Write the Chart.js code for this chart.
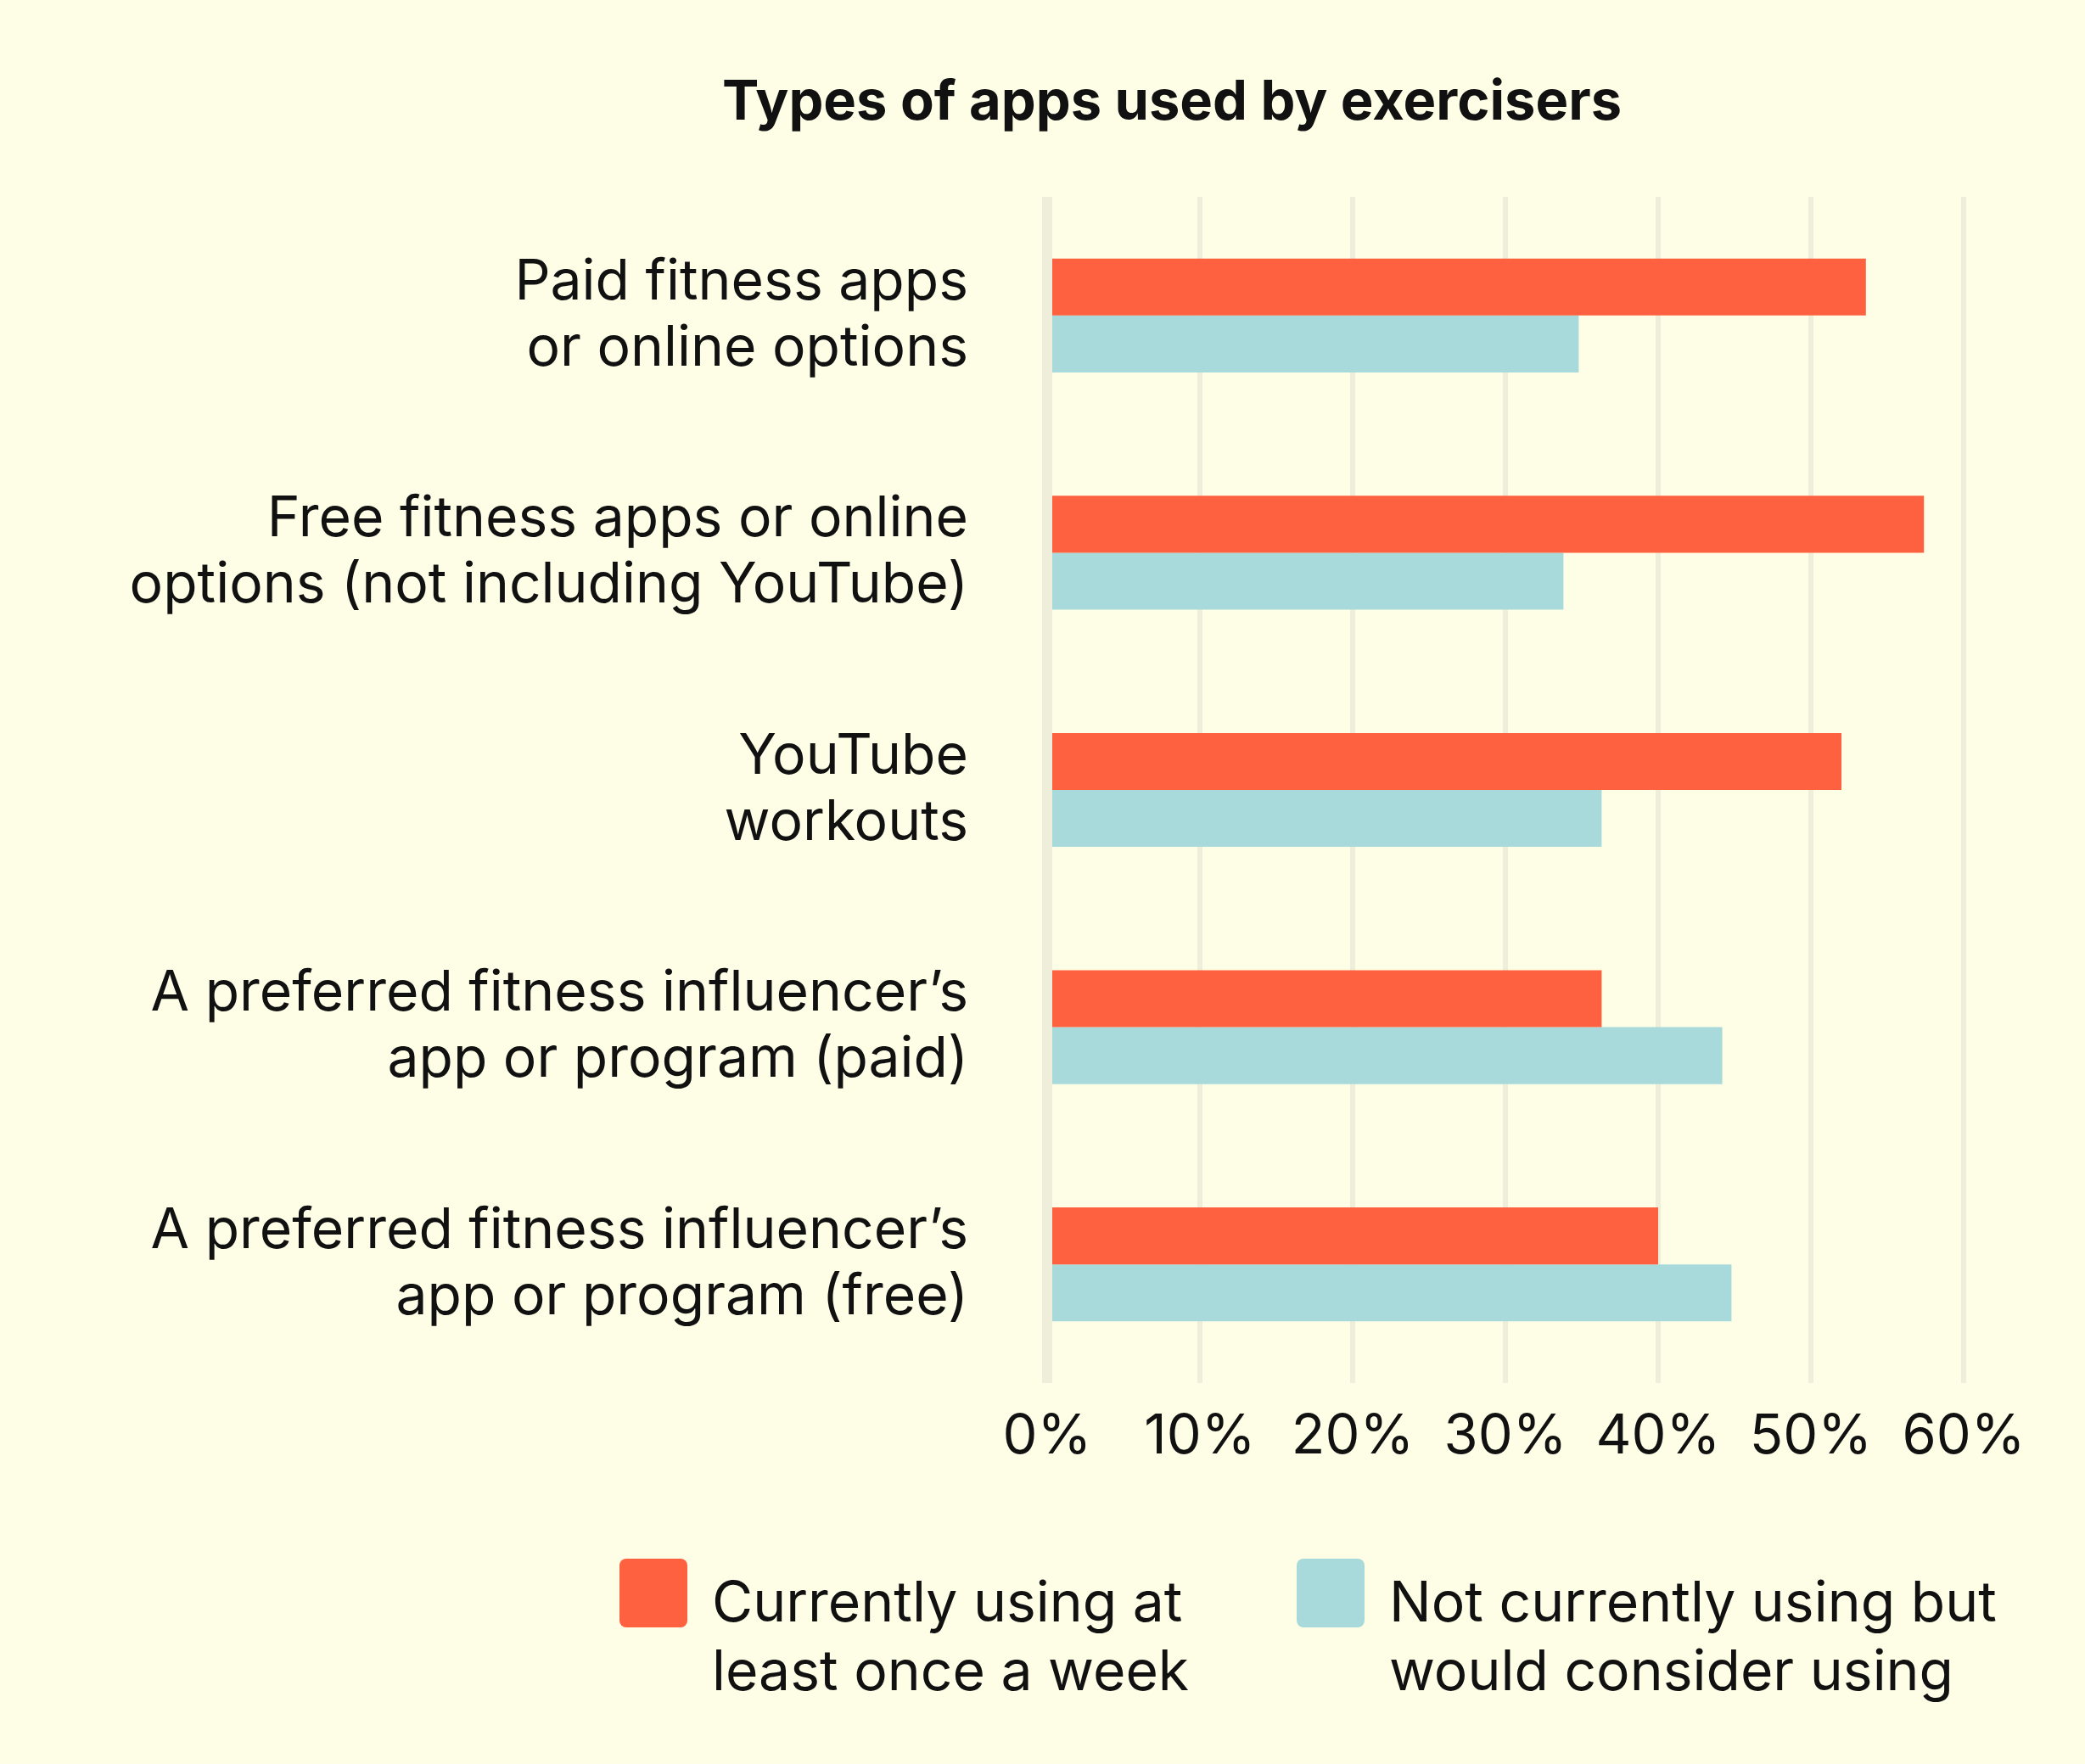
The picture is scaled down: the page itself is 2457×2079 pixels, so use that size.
<!DOCTYPE html>
<html>
<head>
<meta charset="utf-8">
<script src="https://cdn.jsdelivr.net/npm/chart.js@4.4.1/dist/chart.umd.min.js"></script>
<style>
  html, body { margin: 0; padding: 0; background: #fefee6; }
  #wrap { position: relative; width: 2457px; height: 2079px; background: #fefee6; font-family: Inter, sans-serif; color: #111; }
  #chart { position: absolute; left: 0; top: 0; }
  #title { position: absolute; left: 1381px; top: 78px; transform: translateX(-50%); white-space: nowrap;
           font-weight: 700; font-size: 65px; line-height: 80px; }
  .leg { position: absolute; top: 1837px; }
  .leg .box { position: absolute; left: 0; top: 0; width: 80px; height: 81px; border-radius: 8px; }
  .leg .txt { position: absolute; left: 109px; top: 10px; white-space: nowrap; font-size: 66px; line-height: 81px; }
</style>
</head>
<body>
<div id="wrap">
  <canvas id="chart" width="2457" height="2079" style="width:2457px;height:2079px"></canvas>
  <div id="title">Types of apps used by exercisers</div>
  <div id="legend"></div>
</div>
<script>
// categories, two lines each
const categories = [
  ['Paid fitness apps', 'or online options'],
  ['Free fitness apps or online', 'options (not including YouTube)'],
  ['YouTube', 'workouts'],
  ['A preferred fitness influencer’s', 'app or program (paid)'],
  ['A preferred fitness influencer’s', 'app or program (free)'],
];
const currentlyUsing = [53.6, 57.4, 52.0, 36.3, 40.0];
const wouldConsider = [34.8, 33.8, 36.3, 44.2, 44.8];
const seriesNames = [
  ['Currently using at', 'least once a week'],
  ['Not currently using but', 'would consider using'],
];
const seriesColors = ['#fe613f', '#a8dadc'];
const xMax = 60;
const xStep = 10;

const FONT = 'Inter, sans-serif';

new Chart(document.getElementById('chart').getContext('2d'), {
  type: 'bar',
  data: {
    labels: categories,
    datasets: [
      { label: seriesNames[0].join(' '), data: currentlyUsing, backgroundColor: seriesColors[0] },
      { label: seriesNames[1].join(' '), data: wouldConsider, backgroundColor: seriesColors[1] },
    ],
  },
  options: {
    indexAxis: 'y',
    responsive: false,
    animation: false,
    devicePixelRatio: 1,
    layout: { padding: { top: 232, right: 143, bottom: 329, left: 0 } },
    datasets: { bar: { categoryPercentage: 0.48, barPercentage: 1, borderWidth: 0 } },
    plugins: { legend: { display: false }, title: { display: false }, tooltip: { enabled: false } },
    scales: {
      x: {
        min: 0, max: xMax,
        border: { display: false },
        grid: {
          color: '#efeedb',
          lineWidth: c => (c.tick && c.tick.value === 0 ? 12 : 6),
          drawTicks: false,
        },
        ticks: {
          stepSize: xStep,
          padding: 24,
          color: '#111',
          font: { family: FONT, size: 65 },
          callback: v => v + '%',
        },
        afterFit: s => { s.height = 120; },
      },
      y: {
        border: { display: false },
        grid: { display: false, drawTicks: false },
        ticks: {
          padding: 93,
          color: '#111',
          font: { family: FONT, size: 66, lineHeight: 78 / 66 },
        },
        afterFit: s => { s.width = 1234; },
      },
    },
  },
});

// legend
const legendLeft = [730, 1528];
const legend = document.getElementById('legend');
seriesNames.forEach((name, i) => {
  const d = document.createElement('div');
  d.className = 'leg';
  d.style.left = legendLeft[i] + 'px';
  d.innerHTML = '<div class="box" style="background:' + seriesColors[i] + '"></div>' +
    '<div class="txt">' + name.join('<br>') + '</div>';
  legend.appendChild(d);
});
</script>
</body>
</html>
